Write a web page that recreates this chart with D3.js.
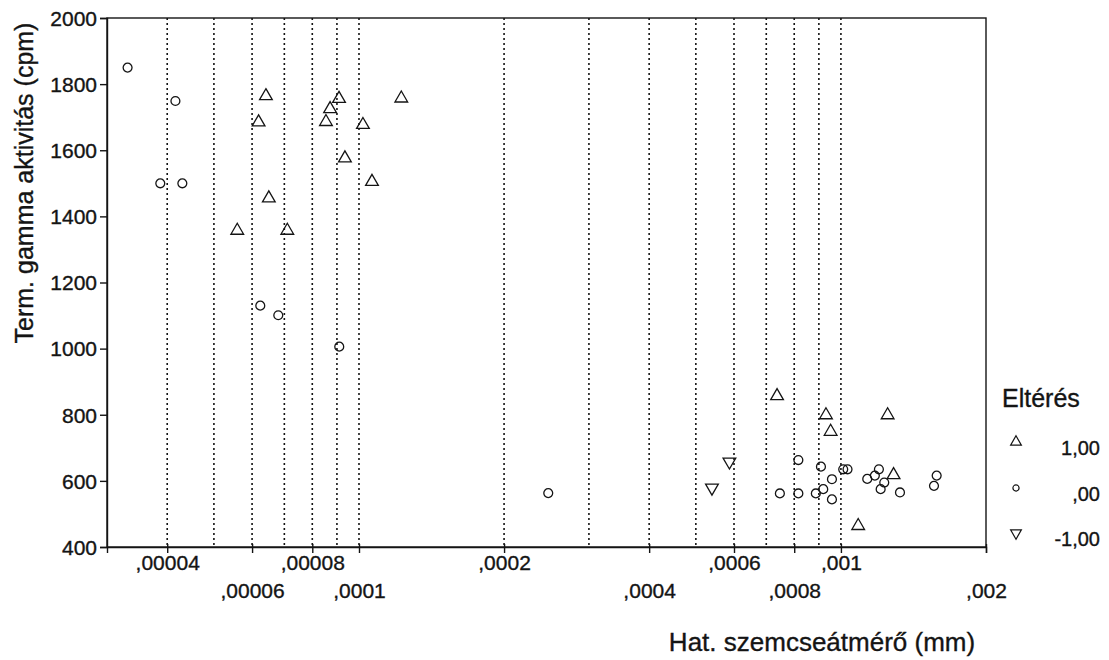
<!DOCTYPE html>
<html>
<head>
<meta charset="utf-8">
<script src="https://cdn.jsdelivr.net/npm/d3@7"></script>
<style>
  html, body { margin: 0; padding: 0; background: #ffffff; }
  svg { display: block; font-family: "Liberation Sans", Arial, sans-serif; }
  text { stroke: #141414; stroke-width: 0.35px; }
</style>
</head>
<body>
<svg id="chart" width="1109" height="660"></svg>
<script>
// ---- data ----
// Eltérés = 1,00 (triangles)
const sizeUp  = [0.0000641, 0.0000619, 0.0000909, 0.0000871, 0.0000854, 0.0001019, 0.0001224, 0.0000935, 0.0001064, 0.000065, 0.0000559, 0.000071,
                 0.000737, 0.000931, 0.000952, 0.00125, 0.001286, 0.001086];
const gammaUp = [1764, 1685, 1756, 1725, 1686, 1677, 1757, 1576, 1505, 1455, 1357, 1357,
                 857, 799, 749, 799, 618, 464];
// Eltérés = ,00 (circles)
const sizeZero  = [0.0000331, 0.0000416, 0.0000387, 0.000043, 0.0000624, 0.000068, 0.000091,
                   0.000247,
                   0.000816, 0.000747, 0.000816, 0.000887, 0.000919, 0.000909, 0.000958, 0.000958, 0.001011, 0.001032,
                   0.001134, 0.001176, 0.001199, 0.00123, 0.001209, 0.001326, 0.00158, 0.00156];
const gammaZero = [1850, 1749, 1500, 1500, 1130, 1101, 1006,
                   563,
                   663, 562, 562, 562, 575, 643, 605, 544, 635, 635,
                   606, 616, 635, 595, 575, 565, 616, 585];
// Eltérés = -1,00 (inverted triangles)
const sizeDown  = [0.000587, 0.00054];
const gammaDown = [658, 579];

const xTickValues = [0.00004, 0.00006, 0.00008, 0.0001, 0.0002, 0.0004, 0.0006, 0.0008, 0.001, 0.002];
const xTickLabels = [",00004", ",00006", ",00008", ",0001", ",0002", ",0004", ",0006", ",0008", ",001", ",002"];
const gridValues = [0.00004, 0.00005, 0.00006, 0.00007, 0.00008, 0.00009, 0.0001,
                    0.0002, 0.0003, 0.0004, 0.0005, 0.0006, 0.0007, 0.0008, 0.0009, 0.001];
const yTickValues = [400, 600, 800, 1000, 1200, 1400, 1600, 1800, 2000];
const legendLabels = ["1,00", ",00", "-1,00"];

const xTitle = "Hat. szemcseátmérő (mm)";
const yTitle = "Term. gamma aktivitás (cpm)";
const legendTitle = "Eltérés";

// ---- layout ----
const svg = d3.select("#chart");
const L = 107, R = 986, T = 18, B = 547;
const ink = "#141414";

const x = d3.scaleLog().domain([0.00003, 0.002]).range([L, R]);
const y = d3.scaleLinear().domain([400, 2000]).range([B, T]);

// dotted grid lines
svg.append("g").selectAll("line").data(gridValues).join("line")
  .attr("x1", d => x(d)).attr("x2", d => x(d))
  .attr("y1", T).attr("y2", B)
  .attr("stroke", ink).attr("stroke-width", 1.6)
  .attr("stroke-dasharray", "2,3");

// frame
svg.append("rect").attr("x", L).attr("y", T).attr("width", R - L).attr("height", B - T)
  .attr("fill", "none").attr("stroke", ink).attr("stroke-width", 1.4);

// y axis
const yAxis = d3.axisLeft(y).tickValues(yTickValues).tickSize(7).tickPadding(3).tickFormat(d3.format("d"));
const gy = svg.append("g").attr("transform", `translate(${L},0)`).call(yAxis);
gy.select(".domain").attr("stroke", ink).attr("stroke-width", 1.4);
gy.selectAll(".tick line").attr("stroke", ink).attr("stroke-width", 1.4);
gy.selectAll(".tick text").attr("fill", ink).style("font-size", "21px")
  .style("font-family", "Liberation Sans, Arial, sans-serif").attr("dy", "0.35em");

// x axis (ticks, labels in two staggered rows)
const xAxis = d3.axisBottom(x).tickValues(xTickValues).tickSize(6).tickFormat((d, i) => xTickLabels[i]);
const gx = svg.append("g").attr("transform", `translate(0,${B})`).call(xAxis);
gx.select(".domain").attr("stroke", ink).attr("stroke-width", 1.4);
gx.selectAll(".tick line").attr("stroke", ink).attr("stroke-width", 1.4).attr("y1", -3);
gx.selectAll(".tick text").attr("fill", ink).style("font-size", "21px")
  .style("font-family", "Liberation Sans, Arial, sans-serif")
  .attr("dy", null)
  .attr("y", (d, i) => (i % 2 === 0 ? 23 : 51));

// axis titles
svg.append("text").attr("x", 822).attr("y", 651).attr("text-anchor", "middle")
  .attr("fill", ink).style("font-size", "26px").text(xTitle);
svg.append("text").attr("transform", "translate(33,183) rotate(-90)").attr("text-anchor", "middle")
  .attr("fill", ink).style("font-size", "25px").text(yTitle);

// symbols
const triUp = d3.symbol().type(d3.symbolTriangle).size(70);
const circ = d3.symbol().type(d3.symbolCircle).size(62);
const triDown = d3.symbol().type(d3.symbolTriangle).size(70);

const marks = svg.append("g").attr("fill", "none").attr("stroke", ink).attr("stroke-width", 1.3);

marks.selectAll("path.up").data(d3.zip(sizeUp, gammaUp)).join("path").attr("class", "up")
  .attr("d", triUp).attr("transform", d => `translate(${x(d[0])},${y(d[1])})`);
marks.selectAll("path.zero").data(d3.zip(sizeZero, gammaZero)).join("path").attr("class", "zero")
  .attr("d", circ).attr("transform", d => `translate(${x(d[0])},${y(d[1])})`);
marks.selectAll("path.down").data(d3.zip(sizeDown, gammaDown)).join("path").attr("class", "down")
  .attr("d", triDown).attr("transform", d => `translate(${x(d[0])},${y(d[1])}) rotate(180)`);

// legend
const lg = svg.append("g");
lg.append("text").attr("x", 1002).attr("y", 407).attr("fill", ink).style("font-size", "25px").text(legendTitle);
const legendSymbols = [d3.symbol().type(d3.symbolTriangle).size(50), d3.symbol().type(d3.symbolCircle).size(30), d3.symbol().type(d3.symbolTriangle).size(50)];
const legendY = [442, 488, 533];
legendLabels.forEach((lab, i) => {
  lg.append("path").attr("d", legendSymbols[i]())
    .attr("transform", `translate(1016,${legendY[i]})` + (i === 2 ? " rotate(180)" : ""))
    .attr("fill", "none").attr("stroke", ink).attr("stroke-width", 1.2);
  lg.append("text").attr("x", 1100).attr("y", legendY[i] + 13).attr("text-anchor", "end")
    .attr("fill", ink).style("font-size", "20px").text(lab);
});
</script>
</body>
</html>
